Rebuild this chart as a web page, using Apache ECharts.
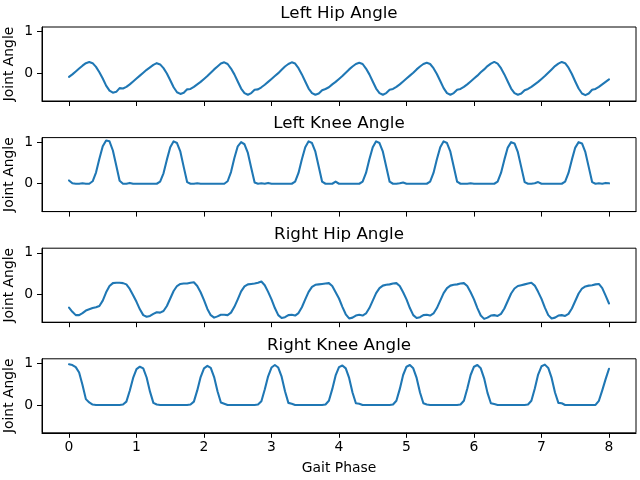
<!DOCTYPE html>
<html>
<head>
<meta charset="utf-8">
<script src="https://cdn.jsdelivr.net/npm/echarts@6/dist/echarts.min.js"></script>
<style>html,body{margin:0;padding:0;background:#fff}#c{width:640px;height:480px}</style>
</head>
<body>
<div id="c"></div>
<script>
const titles = ["Left Hip Angle", "Left Knee Angle", "Right Hip Angle", "Right Knee Angle"];
const xTicks = [0, 1, 2, 3, 4, 5, 6, 7, 8];
const yTicks = [0, 1];

const phase = [
0.00,0.05,0.10,0.15,0.20,0.25,0.30,0.35,0.40,0.45,0.50,0.55,0.60,0.65,0.70,0.75,0.80,0.85,0.90,0.95,
1.00,1.05,1.10,1.15,1.20,1.25,1.30,1.35,1.40,1.45,1.50,1.55,1.60,1.65,1.70,1.75,1.80,1.85,1.90,1.95,
2.00,2.05,2.10,2.15,2.20,2.25,2.30,2.35,2.40,2.45,2.50,2.55,2.60,2.65,2.70,2.75,2.80,2.85,2.90,2.95,
3.00,3.05,3.10,3.15,3.20,3.25,3.30,3.35,3.40,3.45,3.50,3.55,3.60,3.65,3.70,3.75,3.80,3.85,3.90,3.95,
4.00,4.05,4.10,4.15,4.20,4.25,4.30,4.35,4.40,4.45,4.50,4.55,4.60,4.65,4.70,4.75,4.80,4.85,4.90,4.95,
5.00,5.05,5.10,5.15,5.20,5.25,5.30,5.35,5.40,5.45,5.50,5.55,5.60,5.65,5.70,5.75,5.80,5.85,5.90,5.95,
6.00,6.05,6.10,6.15,6.20,6.25,6.30,6.35,6.40,6.45,6.50,6.55,6.60,6.65,6.70,6.75,6.80,6.85,6.90,6.95,
7.00,7.05,7.10,7.15,7.20,7.25,7.30,7.35,7.40,7.45,7.50,7.55,7.60,7.65,7.70,7.75,7.80,7.85,7.90,7.95,
8.00];

const leftHip = [
-0.09,-0.03,0.04,0.11,0.18,0.24,0.27,0.24,0.15,0.02,-0.13,-0.30,-0.42,-0.47,-0.45,-0.36,-0.37,-0.33,-0.27,-0.20,
-0.13,-0.06,0.01,0.08,0.14,0.20,0.24,0.21,0.12,-0.01,-0.17,-0.34,-0.46,-0.50,-0.47,-0.39,-0.38,-0.33,-0.27,-0.21,
-0.14,-0.07,0.01,0.09,0.16,0.23,0.26,0.22,0.11,-0.03,-0.20,-0.37,-0.48,-0.52,-0.48,-0.40,-0.39,-0.34,-0.28,-0.21,
-0.14,-0.07,0.00,0.08,0.16,0.22,0.26,0.23,0.12,-0.03,-0.20,-0.37,-0.48,-0.52,-0.49,-0.41,-0.38,-0.34,-0.27,-0.21,
-0.14,-0.07,0.01,0.09,0.16,0.22,0.25,0.22,0.11,-0.03,-0.20,-0.37,-0.48,-0.52,-0.48,-0.40,-0.38,-0.33,-0.27,-0.20,
-0.13,-0.06,0.01,0.09,0.16,0.22,0.25,0.22,0.12,-0.02,-0.19,-0.36,-0.48,-0.52,-0.48,-0.40,-0.38,-0.33,-0.27,-0.20,
-0.13,-0.06,0.02,0.09,0.17,0.23,0.27,0.23,0.12,-0.03,-0.20,-0.37,-0.48,-0.52,-0.49,-0.41,-0.38,-0.33,-0.27,-0.21,
-0.14,-0.07,0.01,0.09,0.17,0.23,0.27,0.24,0.13,-0.02,-0.20,-0.37,-0.49,-0.53,-0.49,-0.40,-0.38,-0.33,-0.27,-0.21,
-0.15];

const leftKnee = [
0.08,0.01,0.00,0.00,0.01,0.00,0.00,0.06,0.27,0.60,0.90,1.04,1.02,0.80,0.44,0.07,0.00,0.00,0.02,0.00,
0.00,0.00,0.00,0.00,0.00,0.00,0.00,0.05,0.25,0.58,0.88,1.02,0.98,0.77,0.40,0.04,0.00,0.00,0.01,0.00,
0.00,0.00,0.00,0.00,0.00,0.00,0.00,0.06,0.28,0.62,0.90,1.00,0.95,0.74,0.38,0.03,0.00,0.01,0.00,0.02,
0.00,0.00,0.00,0.00,0.00,0.00,0.00,0.05,0.26,0.59,0.88,1.02,0.98,0.77,0.41,0.05,0.00,0.00,0.00,0.05,
0.00,0.00,0.00,0.00,0.00,0.00,0.00,0.05,0.26,0.59,0.88,1.02,0.98,0.77,0.41,0.05,0.00,0.00,0.01,0.03,
0.00,0.00,0.00,0.00,0.00,0.00,0.00,0.05,0.26,0.59,0.88,1.02,0.98,0.77,0.41,0.05,0.00,0.00,0.00,0.01,
0.00,0.00,0.00,0.00,0.00,0.00,0.00,0.05,0.26,0.58,0.87,1.00,0.97,0.76,0.40,0.04,0.00,0.00,0.01,0.04,
0.00,0.00,0.00,0.00,0.00,0.00,0.00,0.05,0.26,0.58,0.87,1.00,0.97,0.76,0.40,0.04,0.00,0.01,0.00,0.02,
0.01];

const rightHip = [
-0.32,-0.42,-0.50,-0.50,-0.45,-0.39,-0.36,-0.33,-0.31,-0.28,-0.15,0.05,0.20,0.27,0.28,0.28,0.27,0.24,0.13,-0.02,
-0.18,-0.36,-0.50,-0.54,-0.52,-0.47,-0.43,-0.44,-0.40,-0.28,-0.10,0.08,0.20,0.25,0.26,0.26,0.28,0.29,0.20,0.05,
-0.14,-0.35,-0.50,-0.56,-0.53,-0.49,-0.49,-0.50,-0.44,-0.30,-0.12,0.07,0.19,0.24,0.25,0.26,0.28,0.31,0.22,0.06,
-0.12,-0.33,-0.50,-0.57,-0.55,-0.50,-0.49,-0.51,-0.45,-0.31,-0.12,0.06,0.18,0.23,0.24,0.25,0.26,0.27,0.20,0.05,
-0.10,-0.30,-0.48,-0.58,-0.56,-0.51,-0.49,-0.51,-0.46,-0.33,-0.15,0.03,0.15,0.21,0.23,0.24,0.26,0.27,0.20,0.05,
-0.12,-0.33,-0.50,-0.57,-0.55,-0.50,-0.49,-0.51,-0.46,-0.33,-0.15,0.03,0.15,0.21,0.23,0.24,0.26,0.27,0.20,0.05,
-0.12,-0.33,-0.51,-0.59,-0.56,-0.51,-0.50,-0.52,-0.47,-0.34,-0.16,0.02,0.14,0.20,0.22,0.24,0.26,0.28,0.21,0.06,
-0.11,-0.32,-0.50,-0.58,-0.56,-0.51,-0.50,-0.52,-0.47,-0.34,-0.16,0.02,0.14,0.19,0.21,0.22,0.24,0.25,0.15,-0.03,
-0.22];

const rightKnee = [
0.98,0.96,0.91,0.78,0.48,0.14,0.06,0.01,0.00,0.00,0.00,0.00,0.00,0.00,0.00,0.00,0.01,0.08,0.34,0.65,
0.86,0.92,0.88,0.66,0.32,0.05,0.01,0.00,0.00,0.00,0.00,0.00,0.00,0.00,0.00,0.00,0.01,0.08,0.35,0.67,
0.88,0.94,0.89,0.67,0.33,0.06,0.03,0.00,0.00,0.00,0.00,0.00,0.00,0.00,0.00,0.00,0.01,0.09,0.37,0.69,
0.90,0.96,0.90,0.68,0.33,0.05,0.03,0.00,0.00,0.00,0.00,0.00,0.00,0.00,0.00,0.00,0.01,0.10,0.38,0.71,
0.91,0.95,0.88,0.65,0.30,0.04,0.03,0.00,0.00,0.00,0.00,0.00,0.00,0.00,0.00,0.00,0.01,0.10,0.38,0.72,
0.92,0.96,0.88,0.65,0.30,0.04,0.01,0.00,0.00,0.00,0.00,0.00,0.00,0.00,0.00,0.00,0.01,0.10,0.39,0.72,
0.92,0.96,0.88,0.64,0.29,0.04,0.02,0.00,0.00,0.00,0.00,0.00,0.00,0.00,0.00,0.00,0.01,0.10,0.39,0.73,
0.93,0.97,0.89,0.65,0.30,0.05,0.04,0.00,0.00,0.00,0.00,0.00,0.00,0.00,0.00,0.00,0.00,0.10,0.35,0.62,
0.87];

const seriesValues = [leftHip, leftKnee, rightHip, rightKnee];

const FONT = 'DejaVu Sans';
const TOP0 = 27, STEPY = 110.6, H = 74;

const chart = echarts.init(document.getElementById('c'), null, {renderer: 'canvas'});
const option = {
  animation: false,
  textStyle: {fontFamily: FONT},
  title: titles.map((t, i) => ({
    text: t, left: 339, top: 5 + STEPY * i, textAlign: 'center', padding: 0,
    textStyle: {fontSize: 16.7, fontWeight: 'normal', color: '#000', fontFamily: FONT}
  })),
  grid: titles.map((t, i) => ({
    left: 42, width: 594, top: TOP0 + STEPY * i, height: H,
    outerBoundsMode: 'none', containLabel: false,
    show: true, borderColor: '#000', borderWidth: 1, backgroundColor: 'transparent'
  })),
  xAxis: titles.map((t, i) => ({
    type: 'value', gridIndex: i, min: -0.4, max: 8.4,
    axisLine: {show: true, onZero: false, lineStyle: {color: '#000', width: 1}},
    axisTick: {show: true, customValues: xTicks, length: 5, lineStyle: {color: '#000', width: 1}},
    axisLabel: {show: i === 3, customValues: xTicks, margin: 8, fontSize: 13.9, color: '#000', fontFamily: FONT},
    splitLine: {show: false},
    name: i === 3 ? 'Gait Phase' : '', nameLocation: 'middle', nameGap: 29, nameMoveOverlap: false,
    nameTextStyle: {fontSize: 13.9, color: '#000', fontFamily: FONT}
  })),
  yAxis: titles.map((t, i) => ({
    type: 'value', gridIndex: i, min: -0.67, max: 1.11,
    axisLine: {show: true, onZero: false, lineStyle: {color: '#000', width: 1}},
    axisTick: {show: true, customValues: yTicks, length: 5, lineStyle: {color: '#000', width: 1}},
    axisLabel: {show: true, customValues: yTicks, margin: 9, fontSize: 13.9, color: '#000', fontFamily: FONT},
    splitLine: {show: false},
    name: 'Joint Angle', nameLocation: 'middle', nameRotate: 90, nameGap: 26, nameMoveOverlap: false,
    nameTextStyle: {fontSize: 13.9, color: '#000', fontFamily: FONT}
  })),
  series: seriesValues.map((vals, i) => ({
    type: 'line', xAxisIndex: i, yAxisIndex: i,
    data: phase.map((x, j) => [x, vals[j]]),
    showSymbol: false, symbol: 'none', clip: true,
    lineStyle: {color: '#1f77b4', width: 2.08, join: 'round', cap: 'round'}
  }))
};
chart.setOption(option);
</script>
</body>
</html>
